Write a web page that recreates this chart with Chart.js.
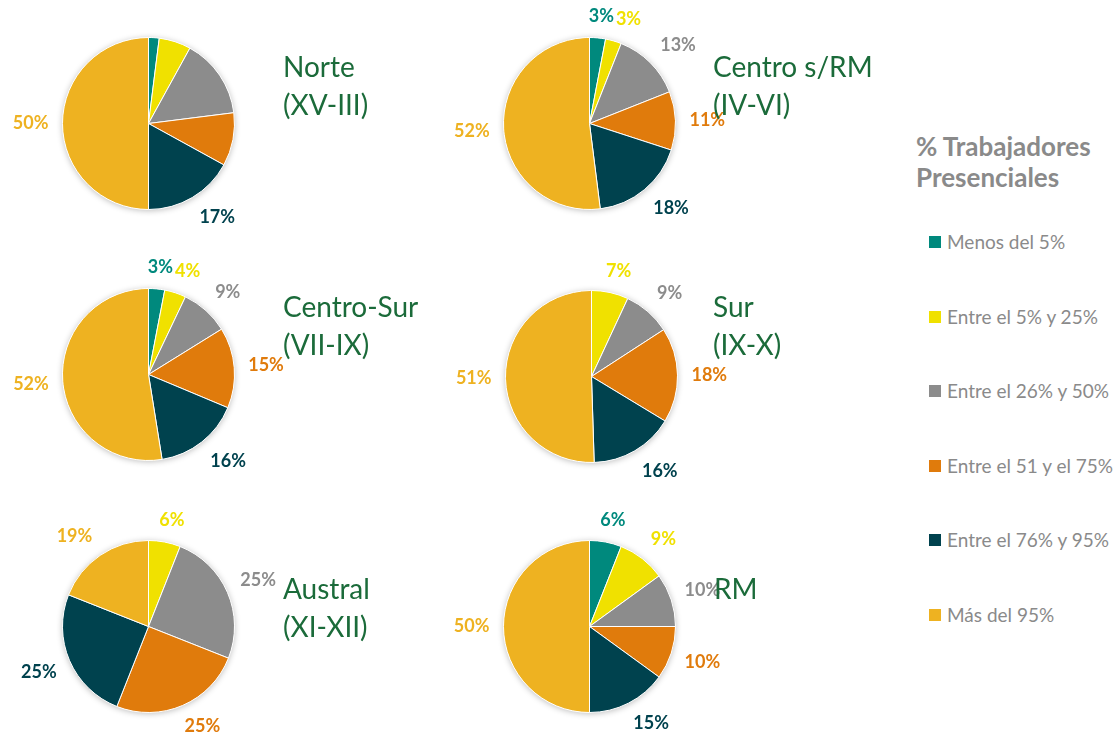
<!DOCTYPE html>
<html lang="es">
<head>
<meta charset="utf-8">
<title>% Trabajadores Presenciales por zona</title>
<script src="https://cdn.jsdelivr.net/npm/chart.js@4/dist/chart.umd.min.js"></script>
<style>
  body { margin: 0; background: #fff; font-family: Lato, "Open Sans", sans-serif; }
  #lienzo { position: relative; width: 1119px; height: 734px; overflow: hidden; }
  .caja { position: absolute; }
  .titulo { position: absolute; color: #1b6b3a; font-size: 28px; line-height: 38px; white-space: nowrap; z-index: 2; }
  #leyenda { position: absolute; left: 916px; top: 131px; color: #8a8a8a; }
  #leyenda h2 { margin: 0; font-size: 26px; line-height: 31px; font-weight: bold; white-space: nowrap; }
  #leyenda ul { list-style: none; margin: 0; padding: 0; position: absolute; top: 100px; left: 13px; }
  #leyenda li { font-size: 19px; height: 74.5px; white-space: nowrap; position: relative; padding-left: 18px; line-height: 22px; }
  #leyenda li span { position: absolute; left: 0; top: 5px; width: 12px; height: 12px; }
</style>
</head>
<body>
<div id="lienzo">
  <div id="leyenda">
    <h2>% Trabajadores<br>Presenciales</h2>
    <ul id="leyenda-items"></ul>
  </div>
</div>
<script>
// categorías de la leyenda
const categorias = [
  "Menos del 5%",
  "Entre el 5% y 25%",
  "Entre el 26% y 50%",
  "Entre el 51 y el 75%",
  "Entre el 76% y 95%",
  "Más del 95%"
];

// valores (%) por zona, en el orden de las categorías
const norte = [2, 6, 15, 10, 17, 50];
const centroSinRM = [3, 3, 13, 11, 18, 52];
const centroSur = [3, 4, 9, 15, 16, 52];
const sur = [0, 7, 9, 18, 16, 51];
const austral = [0, 6, 25, 25, 25, 19];
const rm = [6, 9, 10, 10, 15, 50];

// en Norte solo se rotulan las dos últimas porciones
const norteOcultas = [0, 1, 2, 3];

const colores = ["#00897d", "#f0e100", "#8c8c8c", "#e07b0c", "#00424e", "#eeb221"];
const RADIO = 86;

// posición de cada torta (centro) y de su título
const tortas = [
  { datos: norte, ocultas: norteOcultas, titulo: ["Norte", "(XV-III)"], caja: [0, 0, 440, 250], cx: 148, cy: 123, tx: 283, ty: 47 },
  { datos: centroSinRM, ocultas: [], titulo: ["Centro s/RM", "(IV-VI)"], caja: [440, 0, 460, 250], cx: 589, cy: 123, tx: 713, ty: 47 },
  { datos: centroSur, ocultas: [], titulo: ["Centro-Sur", "(VII-IX)"], caja: [0, 250, 440, 250], cx: 148, cy: 374, tx: 283, ty: 287 },
  { datos: sur, ocultas: [], titulo: ["Sur", "(IX-X)"], caja: [440, 250, 460, 250], cx: 591, cy: 376, tx: 713, ty: 287 },
  { datos: austral, ocultas: [], titulo: ["Austral", "(XI-XII)"], caja: [0, 500, 440, 234], cx: 148, cy: 626, tx: 283, ty: 569 },
  { datos: rm, ocultas: [], titulo: ["RM"], caja: [440, 500, 460, 234], cx: 589, cy: 626, tx: 714, ty: 569 }
];

const limitar = v => Math.max(-1, Math.min(1, v));

// sombra suave bajo la torta
const sombraPlugin = {
  id: "sombra",
  beforeDatasetsDraw(chart) {
    const arc = chart.getDatasetMeta(0).data[0];
    if (!arc) return;
    const p = arc.getProps(["x", "y", "outerRadius"], true);
    const ctx = chart.ctx;
    ctx.save();
    ctx.shadowColor = "rgba(0,0,0,0.28)";
    ctx.shadowBlur = 6;
    ctx.shadowOffsetY = 1;
    ctx.fillStyle = "#ffffff";
    ctx.beginPath();
    ctx.arc(p.x, p.y, p.outerRadius, 0, Math.PI * 2);
    ctx.fill();
    ctx.restore();
  }
};

// etiquetas de porcentaje fuera de cada porción
const etiquetasPlugin = {
  id: "etiquetas",
  afterDatasetsDraw(chart, args, opts) {
    const ctx = chart.ctx;
    const meta = chart.getDatasetMeta(0);
    const ds = chart.data.datasets[0];
    const ocultas = opts.ocultas || [];
    const puestas = []; // cajas ya ubicadas, para no encimar
    ctx.save();
    ctx.font = "bold 18px Lato";
    ctx.textAlign = "center";
    ctx.textBaseline = "middle";
    meta.data.forEach((arc, i) => {
      const v = ds.data[i];
      if (!v || ocultas.includes(i)) return;
      const p = arc.getProps(["x", "y", "startAngle", "endAngle", "outerRadius"], true);
      const a = (p.startAngle + p.endAngle) / 2;
      const texto = v + "%";
      const w = ctx.measureText(texto).width;
      const h = 16;
      const d = p.outerRadius + 14;
      let x = p.x + Math.cos(a) * d + (w / 2) * limitar(Math.cos(a) * 2);
      const y = p.y + Math.sin(a) * d + (h / 2) * limitar(Math.sin(a) * 2);
      for (const b of puestas) {
        if (Math.abs(b.y - y) < h && Math.abs(b.x - x) < (b.w + w) / 2 + 2) {
          x = b.x + (b.w + w) / 2 + 2;
        }
      }
      puestas.push({ x, y, w });
      ctx.fillStyle = ds.backgroundColor[i];
      ctx.fillText(texto, x, y);
    });
    ctx.restore();
  }
};

function dibujarTorta(t) {
  const lienzo = document.getElementById("lienzo");
  const [bx, by, bw, bh] = t.caja;

  const caja = document.createElement("div");
  caja.className = "caja";
  caja.style.left = bx + "px";
  caja.style.top = by + "px";
  caja.style.width = bw + "px";
  caja.style.height = bh + "px";
  const canvas = document.createElement("canvas");
  caja.appendChild(canvas);
  lienzo.appendChild(caja);

  const titulo = document.createElement("div");
  titulo.className = "titulo";
  titulo.style.left = t.tx + "px";
  titulo.style.top = t.ty + "px";
  titulo.innerHTML = t.titulo.join("<br>");
  lienzo.appendChild(titulo);

  new Chart(canvas.getContext("2d"), {
    type: "pie",
    data: {
      labels: categorias,
      datasets: [{
        data: t.datos,
        backgroundColor: colores,
        borderColor: "#ffffff",
        borderWidth: 1,
        hoverOffset: 0
      }]
    },
    options: {
      responsive: true,
      maintainAspectRatio: false,
      animation: false,
      layout: {
        padding: {
          left: t.cx - bx - RADIO,
          right: bx + bw - t.cx - RADIO - 1,
          top: t.cy - by - RADIO,
          bottom: by + bh - t.cy - RADIO - 1
        }
      },
      plugins: {
        legend: { display: false },
        tooltip: { enabled: false },
        etiquetas: { ocultas: t.ocultas }
      }
    },
    plugins: [sombraPlugin, etiquetasPlugin]
  });
}

// leyenda común
function dibujarLeyenda() {
  const ul = document.getElementById("leyenda-items");
  categorias.forEach((c, i) => {
    const li = document.createElement("li");
    li.innerHTML = `<span style="background:${colores[i]}"></span>${c}`;
    ul.appendChild(li);
  });
}

dibujarLeyenda();
tortas.forEach(dibujarTorta);
</script>
</body>
</html>
